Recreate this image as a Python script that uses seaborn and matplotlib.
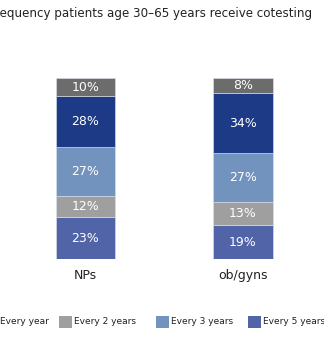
import numpy as np
import matplotlib
matplotlib.use("Agg")
import matplotlib.pyplot as plt
from matplotlib.patches import Rectangle
import seaborn as sns

sns.set_theme(style="white")
plt.rcParams['font.family'] = ['DejaVu Sans']

title = "Frequency patients age 30\u201365 years receive cotesting"
categories = ["NPs", "ob/gyns"]
# stack order bottom -> top
series_names = ["Every 5 years", "Every 2 years", "Every 3 years", "Every year", "Other"]
every_5_years = [23, 19]
every_2_years = [12, 13]
every_3_years = [27, 27]
every_year = [28, 34]
other = [10, 8]
series_values = [every_5_years, every_2_years, every_3_years, every_year, other]
colors = ["#5264a8", "#9f9f9f", "#7193bd", "#1c3a85", "#6c6c6c"]

legend_labels = ["Every year", "Every 2 years", "Every 3 years", "Every 5 years"]
legend_colors = ["#1c3a85", "#9f9f9f", "#7193bd", "#5264a8"]

W, H = 324, 342
fig = plt.figure(figsize=(W / 100, H / 100), dpi=100)
fig.patch.set_facecolor("white")

ax_bottom, ax_top = 259, 78.3
ax = fig.add_axes([0, 1 - ax_bottom / H, 1, (ax_bottom - ax_top) / H])

vals = np.array(series_values, dtype=float)
totals = vals.sum(axis=0)
pct = vals / totals * 100
bottoms = np.zeros(len(categories))
for name, raw, h, c in zip(series_names, series_values, pct, colors):
    sns.barplot(x=categories, y=h, bottom=bottoms, color=c, saturation=1,
                width=0.375, edgecolor="#dde3ee", linewidth=0.4, ax=ax)
    for i, (rv, hv) in enumerate(zip(raw, h)):
        ax.text(i, bottoms[i] + hv / 2, f"{rv}%", ha="center", va="center",
                color="white", fontsize=9)
    bottoms = bottoms + h

pitch = 157.5
c0 = 85.5
ax.set_xlim(-c0 / pitch, (W - c0) / pitch)
ax.set_ylim(0, 100)
ax.set_yticks([])
ax.set_xticks([0, 1])
ax.set_xticklabels(categories, fontsize=9, color="#222222")
ax.tick_params(axis="x", length=0, pad=7.5)
for s in ax.spines.values():
    s.set_visible(False)
ax.set_ylabel("")
ax.set_xlabel("")

fig.text(312 / W, 1 - 14 / H, title, ha="right", va="center", fontsize=8.6, color="#222222")

patch_x = [-15, 59, 156, 248]
ly = 322
for lx, lab, lc in zip(patch_x, legend_labels, legend_colors):
    fig.patches.append(Rectangle((lx / W, 1 - (ly + 6) / H), 13 / W, 12 / H,
                                 transform=fig.transFigure, facecolor=lc,
                                 edgecolor="none"))
    fig.text((lx + 15) / W, 1 - ly / H, lab, ha="left", va="center",
             fontsize=6.5, color="#222222")

fig.savefig("out.png", dpi=100)
